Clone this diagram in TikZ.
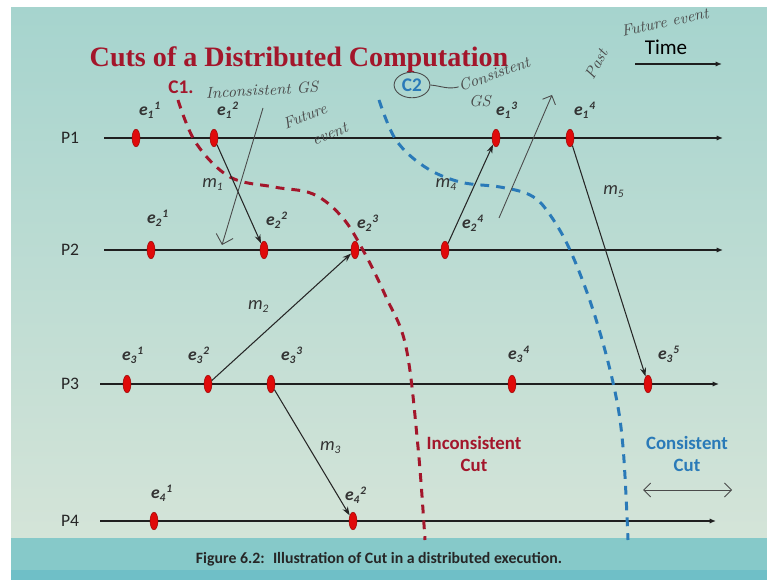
\documentclass[tikz,border=0pt]{standalone}
\usepackage{fontspec}
\newfontfamily\sans{Carlito}
\newfontfamily\titlefont{Liberation Serif}
\usetikzlibrary{arrows.meta,positioning,shapes.geometric}

\definecolor{cutred}{HTML}{A3162B}
\definecolor{cutblue}{HTML}{2A7AB8}
\definecolor{evred}{HTML}{E00A0A}
\definecolor{slidetop}{HTML}{A6D4CE}
\definecolor{slidemid}{HTML}{CDE1D7}
\definecolor{slidebot}{HTML}{D4E4D8}
\definecolor{bandlite}{HTML}{86C9C9}
\definecolor{banddark}{HTML}{6FBFC7}
\definecolor{ink}{HTML}{4A4A4A}

% event and message labels
\newcommand{\evlab}[2]{e$_{\mbox{\fontsize{6.5}{7}\selectfont #1}}{}^{\mbox{\fontsize{6.5}{7}\selectfont #2}}$}
\newcommand{\msglab}[1]{m$_{\mbox{\fontsize{6.5}{7}\selectfont #1}}$}

\begin{document}
\begin{tikzpicture}[
    x=0.02cm, y=-0.02cm,
    proc/.style={draw=black!88, line width=1.3pt, -{Latex[length=3.6pt,width=3pt]}},
    msg/.style={draw=black!85, line width=0.6pt, -{Stealth[length=5pt,width=3.4pt]}},
    evt/.style={ellipse, fill=evred, draw=evred!70!black, line width=0.3pt, minimum width=4.5pt, minimum height=10pt, inner sep=0pt},
    plab/.style={font=\sans\fontsize{10}{12}\selectfont, text=black!85},
    elab/.style={font=\sans\bfseries\itshape\fontsize{10}{12}\selectfont, text=black!80, inner sep=1pt},
    mlab/.style={font=\sans\itshape\fontsize{10.5}{12}\selectfont, text=black!80, inner sep=1pt},
    cut/.style={line width=1.7pt, dash pattern=on 5pt off 4pt},
    cutlab/.style={font=\sans\bfseries\fontsize{10.7}{12.5}\selectfont, align=center},
    hand/.style={font=\itshape\fontsize{9}{10}\selectfont, text=ink, inner sep=0pt},
    inkline/.style={draw=ink, line width=0.5pt}
]
    \useasboundingbox (0,0) rectangle (767,580);

    % slide background
    \fill[white] (0,0) rectangle (767,580);
    \shade[top color=slidetop, middle color=slidemid, bottom color=slidebot] (11,8) rectangle (767,538);
    \fill[bandlite] (11,538) rectangle (767,570);
    \fill[banddark] (11,570) rectangle (767,580);

    % title and time axis
    \node[font=\titlefont\bfseries\fontsize{16}{18}\selectfont, text=cutred] (title) at (299,60) {Cuts of a Distributed Computation};
    \node[font=\sans\fontsize{12}{14}\selectfont] (time) at (666,47) {Time};
    \coordinate (ta) at (635,64);
    \coordinate (tb) at (722,64);
    \draw[proc] (ta) -- (tb);

    % processes
    \foreach \i/\y/\xa/\xb in {1/138/104/723, 2/250/104/723, 3/384/100/719, 4/521/100/716} {
        \node[plab] (p\i) at (70,\y) {P\i};
        \coordinate (p\i a) at (\xa,\y);
        \coordinate (p\i b) at (\xb,\y);
        \draw[proc] (p\i a) -- (p\i b);
    }

    % cuts
    \draw[cut, cutred] plot[smooth, tension=0.6] coordinates {(178,100) (196,143) (230,177) (274,187) (313,194) (342,217) (364,252) (386,297) (406,347) (418,447) (425,540)};
    \draw[cut, cutblue] plot[smooth, tension=0.6] coordinates {(379,100) (396,140) (425,167) (460,182) (500,187) (530,195) (548,212) (570,250) (594,313) (614,387) (623,447) (628,540)};
    \node[font=\sans\bfseries\fontsize{11}{13}\selectfont, text=cutred] (c1) at (181,87) {C1.};
    \node[font=\sans\bfseries\fontsize{11}{13}\selectfont, text=cutblue, ellipse, draw=ink, line width=0.5pt, inner sep=1.5pt] (c2) at (412,85) {C2};
    \node[cutlab, text=cutred] (inc) at (474,454) {Inconsistent\\Cut};
    \node[cutlab, text=cutblue] (con) at (687,454) {Consistent\\Cut};

    % events
    \foreach \n/\x/\y in {11/136/138, 12/214/138, 13/496/138, 14/570/138,
                          21/151/250, 22/264/250, 23/355/250, 24/445/250,
                          31/127/384, 32/208/384, 33/271/384, 34/512/384, 35/648/384,
                          41/154/521, 42/353/521}
        \node[evt] (e\n) at (\x,\y) {};

    % event labels
    \foreach \p/\k/\x/\y in {1/1/150/110, 1/2/228/110, 1/3/507/110, 1/4/585/110,
                             2/1/158/218, 2/2/277/220, 2/3/368/223, 2/4/473/223,
                             3/1/133/355, 3/2/199/355, 3/3/292/355, 3/4/519/354, 3/5/669/354,
                             4/1/162/493, 4/2/356/495}
        \node[elab] (l\p\k) at (\x,\y) {\evlab{\p}{\k}};

    % messages
    \draw[msg] (e12) -- (e22) node[mlab, pos=0.4, left=5pt] {\msglab{1}};
    \draw[msg] (e32) -- (e23) node[mlab, pos=0.58, left=12pt] {\msglab{2}};
    \draw[msg] (e33) -- (e42) node[mlab, pos=0.46, right=5pt] {\msglab{3}};
    \draw[msg] (e24) -- (e13) node[mlab, pos=0.6, left=9pt] {\msglab{4}};
    \draw[msg] (e14) -- (e35) node[mlab, pos=0.2, right=8pt] {\msglab{5}};

    % handwritten notes
    \node[hand, rotate=3] (hw1) at (262,90) {Inconsistent GS};
    \node[hand, rotate=22] (hw2) at (305,116) {Future};
    \node[hand, rotate=22] (hw2b) at (330,134) {event};
    \coordinate (fa) at (263,108);
    \coordinate (fb) at (222,245);
    \draw[inkline, -{Straight Barb[length=5pt]}] (fa) -- (fb);
    \node[hand, rotate=20] (hw3) at (494,74) {Consistent};
    \node[hand] (hw4) at (480,101) {GS};
    \draw[inkline] (c2.east) to[out=-5, in=195] (hw3.west);
    \node[hand, rotate=62] (hw5) at (596,64) {Past};
    \node[hand, rotate=12] (hw6) at (665,22) {Future event};
    \coordinate (pa) at (552,95);
    \coordinate (pb) at (499,218);
    \draw[inkline, {Straight Barb[length=4pt]}-] (pa) -- (pb);
    \coordinate (da) at (643,490);
    \coordinate (db) at (732,490);
    \draw[inkline, {Straight Barb[length=4pt]}-{Straight Barb[length=4pt]}] (da) -- (db);

    % caption
    \node[font=\sans\bfseries\fontsize{9}{11}\selectfont, text=black!85] (cap) at (379,559) {Figure 6.2: \ Illustration of Cut in a distributed execution.};
\end{tikzpicture}
\end{document}
